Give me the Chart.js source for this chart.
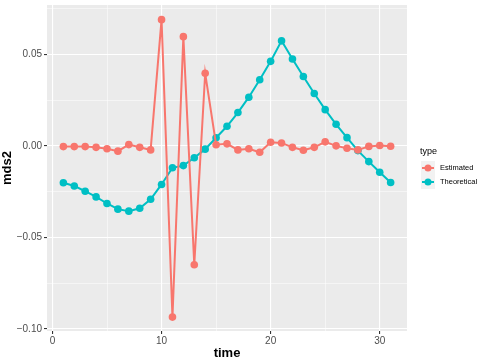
<!DOCTYPE html>
<html lang="en">
<head>
  <meta charset="UTF-8">
  <title>mds2 over time</title>
  <script src="https://cdn.jsdelivr.net/npm/chart.js"></script>
  <style>
    body { margin: 0; background: #fff; }
    #wrap { width: 485px; height: 363px; }
  </style>
</head>
<body>
  <div id="wrap"><canvas id="chart"></canvas></div>
  <script>
    const time = [1,2,3,4,5,6,7,8,9,10,11,12,13,14,15,16,17,18,19,20,21,22,23,24,25,26,27,28,29,30,31];
    const estimated = [-0.0003,-0.0003,-0.0003,-0.0007,-0.0015,-0.0028,0.0008,-0.0007,-0.0021,0.0691,
      -0.0935,0.0598,-0.0649,0.0398,0.0007,0.0012,-0.0021,-0.0015,-0.0034,0.0021,
      0.0017,-0.0007,-0.0023,-0.0007,0.0023,0.0001,-0.0012,-0.0021,-0.0002,0.0003,-0.0001];
    const theoretical = [-0.0201,-0.0218,-0.0247,-0.0278,-0.0314,-0.0345,-0.0356,-0.0340,-0.0291,-0.0210,
      -0.0119,-0.0107,-0.0064,-0.0017,0.0045,0.0108,0.0183,0.0267,0.0362,0.0463,
      0.0575,0.0476,0.0380,0.0287,0.0199,0.0119,0.0046,-0.0025,-0.0085,-0.0143,-0.0199];
    const xTicks = [0,5,10,15,20,25,30];
    const yTicks = [-0.1,-0.075,-0.05,-0.025,0,0.025,0.05,0.075];
    const seriesNames = ['Estimated', 'Theoretical'];
    const colors = ['#F8766D', '#00BFC4'];

    const toPoints = ys => ys.map((y, i) => ({ x: time[i], y: y }));
    const isMajor = (v, step) => Math.abs(v / step - Math.round(v / step)) < 1e-6;

    // grey panel like ggplot
    const panelBg = {
      id: 'panelBg',
      beforeDraw(chart) {
        const a = chart.chartArea, ctx = chart.ctx;
        ctx.save();
        ctx.fillStyle = '#EBEBEB';
        ctx.fillRect(a.left, a.top, a.right - a.left, a.bottom - a.top);
        ctx.restore();
      }
    };

    // legend on the right, drawn by hand
    const sideLegend = {
      id: 'sideLegend',
      afterDraw(chart) {
        const ctx = chart.ctx;
        const x0 = 421, y0 = 161, key = 14;
        ctx.save();
        ctx.fillStyle = '#000';
        ctx.font = '9px "Liberation Sans", Arial, sans-serif';
        ctx.textBaseline = 'middle';
        ctx.fillText('type', 420, 152);
        seriesNames.forEach((name, i) => {
          const ky = y0 + i * key;
          ctx.fillStyle = '#F2F2F2';
          ctx.fillRect(x0, ky, key, key);
          ctx.strokeStyle = colors[i];
          ctx.lineWidth = 2;
          ctx.beginPath();
          ctx.moveTo(x0 + 1, ky + key / 2);
          ctx.lineTo(x0 + key - 1, ky + key / 2);
          ctx.stroke();
          ctx.fillStyle = colors[i];
          ctx.beginPath();
          ctx.arc(x0 + key / 2, ky + key / 2, 3.5, 0, Math.PI * 2);
          ctx.fill();
          ctx.fillStyle = '#000';
          ctx.font = '7.5px "Liberation Sans", Arial, sans-serif';
          ctx.fillText(name, 440, ky + key / 2);
        });
        ctx.restore();
      }
    };

    new Chart(document.getElementById('chart'), {
      type: 'line',
      data: {
        datasets: [
          {
            label: seriesNames[0],
            data: toPoints(estimated),
            borderColor: colors[0],
            backgroundColor: colors[0],
            borderWidth: 2,
            pointRadius: 3.8,
            pointBorderWidth: 0,
            tension: 0
          },
          {
            label: seriesNames[1],
            data: toPoints(theoretical),
            borderColor: colors[1],
            backgroundColor: colors[1],
            borderWidth: 2,
            pointRadius: 3.8,
            pointBorderWidth: 0,
            tension: 0
          }
        ]
      },
      options: {
        responsive: true,
        maintainAspectRatio: false,
        animation: false,
        layout: { padding: { top: 5, right: 78, left: 0, bottom: 0 } },
        plugins: {
          legend: { display: false },
          tooltip: { enabled: false }
        },
        scales: {
          x: {
            type: 'linear',
            min: -0.5,
            max: 32.5,
            afterBuildTicks: s => { s.ticks = xTicks.map(v => ({ value: v })); },
            afterFit: s => { s.height = 32; },
            border: { display: false },
            grid: {
              color: c => '#FFFFFF',
              lineWidth: c => isMajor(c.tick.value, 10) ? 1.1 : 0.5,
              tickColor: c => isMajor(c.tick.value, 10) ? '#333333' : 'rgba(0,0,0,0)',
              tickLength: 3
            },
            ticks: {
              color: '#4D4D4D',
              font: { family: '"Liberation Sans", Arial, sans-serif', size: 10 },
              padding: 1,
              maxRotation: 0,
              callback: v => isMajor(v, 10) ? String(v) : ''
            },
            title: {
              display: true,
              text: 'time',
              color: '#000',
              font: { family: '"Liberation Sans", Arial, sans-serif', size: 13, weight: 'bold' },
              padding: { top: 0, bottom: 2 }
            }
          },
          y: {
            type: 'linear',
            min: -0.1011,
            max: 0.0771,
            afterBuildTicks: s => { s.ticks = yTicks.map(v => ({ value: v })); },
            afterFit: s => { s.width = 47; s.paddingTop = 0; s.paddingBottom = 0; },
            border: { display: false },
            grid: {
              color: c => '#FFFFFF',
              lineWidth: c => isMajor(c.tick.value, 0.05) ? 1.1 : 0.5,
              tickColor: c => isMajor(c.tick.value, 0.05) ? '#333333' : 'rgba(0,0,0,0)',
              tickLength: 3
            },
            ticks: {
              color: '#4D4D4D',
              font: { family: '"Liberation Sans", Arial, sans-serif', size: 10 },
              padding: 2,
              callback: v => isMajor(v, 0.05) ? (v < 0 ? '\u2212' : '') + Math.abs(v).toFixed(2) : ''
            },
            title: {
              display: true,
              text: 'mds2',
              color: '#000',
              font: { family: '"Liberation Sans", Arial, sans-serif', size: 13, weight: 'bold' },
              padding: { top: 0, bottom: 0 }
            }
          }
        }
      },
      plugins: [panelBg, sideLegend]
    });
  </script>
</body>
</html>
